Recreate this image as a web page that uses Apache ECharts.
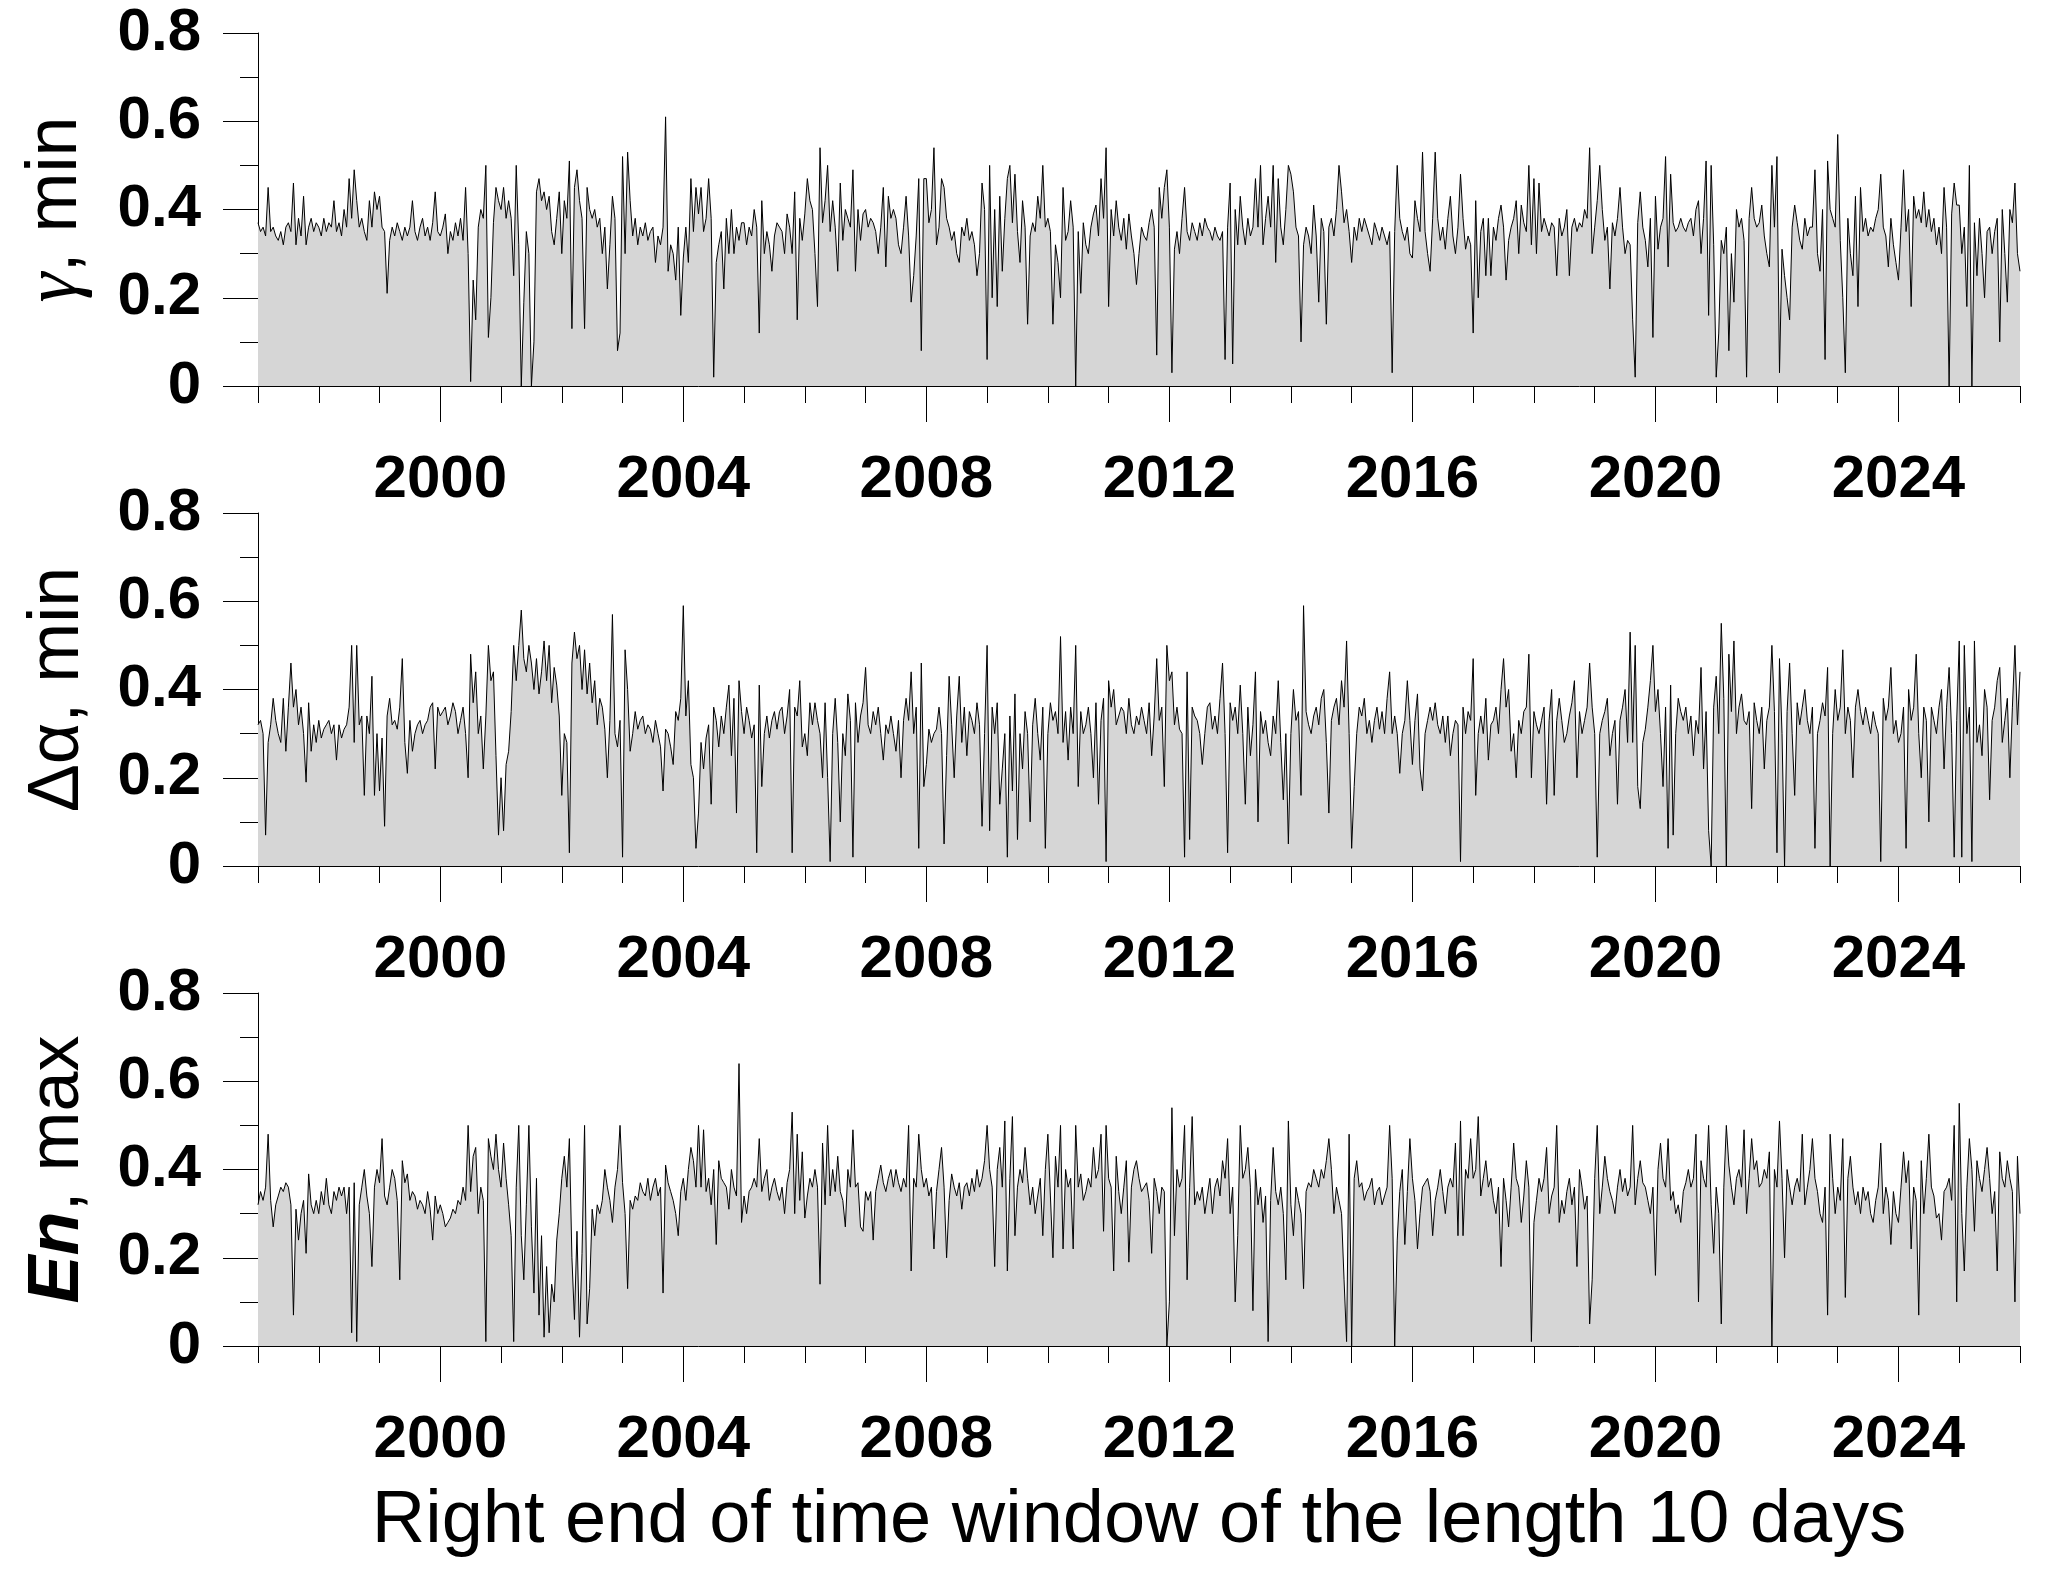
<!DOCTYPE html>
<html>
<head>
<meta charset="utf-8">
<script src="https://cdn.jsdelivr.net/npm/echarts@6/dist/echarts.min.js"></script>
<style>
html,body{margin:0;padding:0;background:#fff;}
#chart{width:2051px;height:1581px;}
</style>
</head>
<body>
<div id="chart"></div>
<script>
// ---- data: one row per calendar year (1997 ... 2025), values spread evenly inside the year ----
const FIRST_YEAR = 1997;
const LAST_YEAR = 2026;

const gammaMinRows = [
[0.37,0.35,0.36,0.34,0.45,0.35,0.36,0.34,0.33,0.35,0.32,0.36,0.37,0.35,0.46,0.32,0.38,0.34,0.43,0.32,0.36,0.38,0.35,0.37],
[0.36,0.34,0.38,0.35,0.37,0.36,0.42,0.35,0.37,0.34,0.40,0.36,0.47,0.38,0.49,0.42,0.36,0.38,0.35,0.33,0.42,0.36,0.44,0.40],
[0.43,0.36,0.35,0.21,0.33,0.36,0.34,0.37,0.35,0.33,0.36,0.34,0.36,0.42,0.35,0.33,0.36,0.38,0.34,0.36,0.33,0.37,0.44,0.35],
[0.34,0.36,0.39,0.30,0.35,0.33,0.37,0.34,0.38,0.33,0.45,0.30,0.01,0.24,0.15,0.36,0.40,0.38,0.50,0.11,0.20,0.37,0.45,0.42],
[0.40,0.45,0.38,0.42,0.38,0.25,0.50,0.32,0.00,0.19,0.35,0.30,0.00,0.10,0.44,0.47,0.42,0.44,0.40,0.43,0.35,0.32,0.38,0.44],
[0.30,0.42,0.38,0.51,0.13,0.45,0.49,0.42,0.38,0.13,0.45,0.40,0.38,0.40,0.36,0.38,0.30,0.36,0.22,0.32,0.43,0.38,0.08,0.12],
[0.52,0.30,0.53,0.42,0.34,0.38,0.32,0.36,0.34,0.37,0.33,0.35,0.36,0.28,0.34,0.32,0.36,0.61,0.26,0.32,0.30,0.24,0.36,0.16],
[0.29,0.36,0.28,0.47,0.35,0.45,0.39,0.45,0.35,0.38,0.47,0.38,0.02,0.28,0.32,0.35,0.22,0.38,0.30,0.40,0.30,0.36,0.33,0.37],
[0.37,0.32,0.36,0.34,0.40,0.36,0.12,0.42,0.30,0.35,0.32,0.26,0.34,0.37,0.36,0.35,0.30,0.39,0.36,0.30,0.44,0.15,0.38,0.33],
[0.39,0.47,0.42,0.40,0.30,0.18,0.54,0.37,0.42,0.50,0.35,0.42,0.36,0.26,0.46,0.33,0.40,0.38,0.36,0.49,0.26,0.40,0.33,0.39],
[0.40,0.36,0.38,0.37,0.35,0.30,0.36,0.45,0.27,0.43,0.38,0.40,0.38,0.32,0.30,0.36,0.43,0.34,0.19,0.25,0.34,0.47,0.08,0.47],
[0.47,0.37,0.40,0.54,0.32,0.36,0.47,0.45,0.38,0.36,0.33,0.35,0.30,0.28,0.36,0.34,0.38,0.33,0.35,0.32,0.25,0.30,0.46,0.40],
[0.06,0.50,0.20,0.40,0.18,0.43,0.26,0.38,0.47,0.50,0.37,0.48,0.35,0.28,0.42,0.36,0.14,0.34,0.37,0.35,0.43,0.38,0.50,0.36],
[0.38,0.35,0.14,0.32,0.28,0.20,0.45,0.33,0.35,0.42,0.36,0.00,0.35,0.21,0.37,0.32,0.30,0.36,0.39,0.41,0.34,0.47,0.38,0.54],
[0.18,0.40,0.34,0.42,0.36,0.33,0.38,0.31,0.39,0.34,0.30,0.23,0.30,0.36,0.34,0.33,0.37,0.40,0.36,0.07,0.45,0.38,0.45,0.49],
[0.36,0.03,0.31,0.35,0.30,0.38,0.45,0.35,0.33,0.37,0.35,0.33,0.37,0.34,0.38,0.36,0.35,0.33,0.36,0.34,0.33,0.35,0.06,0.36],
[0.46,0.05,0.40,0.32,0.43,0.36,0.32,0.38,0.34,0.36,0.47,0.36,0.50,0.32,0.38,0.43,0.36,0.50,0.28,0.47,0.36,0.32,0.40,0.50],
[0.48,0.44,0.36,0.34,0.10,0.32,0.36,0.34,0.30,0.41,0.34,0.19,0.38,0.35,0.14,0.36,0.38,0.34,0.40,0.50,0.44,0.37,0.40,0.35],
[0.28,0.36,0.33,0.38,0.35,0.38,0.36,0.34,0.32,0.37,0.35,0.33,0.36,0.34,0.32,0.35,0.03,0.35,0.50,0.38,0.35,0.33,0.36,0.30],
[0.29,0.42,0.38,0.35,0.53,0.35,0.30,0.26,0.38,0.53,0.38,0.33,0.36,0.31,0.38,0.43,0.34,0.30,0.36,0.48,0.38,0.31,0.34,0.32],
[0.12,0.42,0.20,0.35,0.38,0.25,0.38,0.25,0.36,0.33,0.38,0.41,0.36,0.24,0.33,0.36,0.38,0.42,0.30,0.41,0.37,0.35,0.50,0.32],
[0.47,0.30,0.46,0.35,0.38,0.36,0.34,0.37,0.36,0.25,0.38,0.34,0.36,0.40,0.25,0.36,0.38,0.35,0.37,0.36,0.40,0.38,0.54,0.30],
[0.36,0.42,0.50,0.40,0.33,0.36,0.22,0.37,0.34,0.38,0.45,0.36,0.30,0.33,0.32,0.15,0.02,0.37,0.44,0.36,0.33,0.27,0.38,0.11],
[0.43,0.31,0.36,0.38,0.52,0.27,0.48,0.37,0.35,0.36,0.38,0.36,0.35,0.37,0.38,0.34,0.40,0.42,0.30,0.38,0.51,0.16,0.50,0.32],
[0.02,0.12,0.33,0.30,0.36,0.08,0.30,0.19,0.40,0.36,0.38,0.33,0.02,0.38,0.45,0.38,0.36,0.37,0.41,0.34,0.30,0.27,0.50,0.36],
[0.52,0.03,0.31,0.25,0.20,0.15,0.36,0.41,0.37,0.33,0.31,0.38,0.34,0.36,0.36,0.49,0.30,0.26,0.40,0.06,0.51,0.40,0.38,0.36],
[0.57,0.33,0.20,0.03,0.38,0.30,0.25,0.43,0.18,0.45,0.35,0.38,0.34,0.36,0.35,0.38,0.40,0.48,0.36,0.34,0.27,0.38,0.32,0.28],
[0.24,0.36,0.49,0.35,0.40,0.18,0.43,0.38,0.40,0.37,0.44,0.36,0.40,0.35,0.38,0.32,0.36,0.30,0.45,0.36,0.00,0.39,0.46,0.41],
[0.41,0.30,0.36,0.18,0.50,0.00,0.37,0.25,0.38,0.30,0.20,0.35,0.36,0.30,0.35,0.38,0.10,0.40,0.30,0.19,0.40,0.37,0.46,0.30]
];
const gammaMinLast = 0.26;

const dAlphaMinRows = [
[0.32,0.33,0.30,0.07,0.28,0.32,0.38,0.33,0.30,0.28,0.38,0.26,0.36,0.46,0.36,0.40,0.32,0.36,0.30,0.19,0.37,0.26,0.32,0.28],
[0.33,0.29,0.31,0.32,0.33,0.30,0.32,0.24,0.32,0.29,0.31,0.32,0.36,0.50,0.28,0.50,0.32,0.34,0.16,0.34,0.30,0.43,0.16,0.30],
[0.17,0.29,0.09,0.34,0.38,0.32,0.33,0.31,0.36,0.47,0.28,0.21,0.33,0.26,0.30,0.32,0.33,0.30,0.32,0.33,0.36,0.37,0.22,0.36],
[0.34,0.35,0.36,0.32,0.34,0.37,0.35,0.30,0.33,0.36,0.30,0.20,0.48,0.37,0.44,0.30,0.34,0.22,0.34,0.50,0.42,0.44,0.25,0.07],
[0.20,0.08,0.23,0.26,0.35,0.50,0.42,0.50,0.58,0.47,0.44,0.50,0.46,0.40,0.47,0.39,0.44,0.51,0.42,0.50,0.37,0.45,0.41,0.34],
[0.16,0.30,0.28,0.03,0.46,0.53,0.47,0.50,0.40,0.49,0.39,0.46,0.37,0.42,0.32,0.38,0.36,0.31,0.20,0.33,0.57,0.30,0.27,0.33],
[0.02,0.49,0.40,0.26,0.30,0.35,0.31,0.33,0.34,0.30,0.32,0.31,0.28,0.33,0.30,0.27,0.17,0.31,0.30,0.27,0.23,0.35,0.33,0.38],
[0.59,0.34,0.42,0.23,0.20,0.04,0.12,0.28,0.22,0.29,0.32,0.14,0.36,0.33,0.27,0.34,0.30,0.36,0.41,0.25,0.38,0.12,0.42,0.35],
[0.30,0.36,0.33,0.29,0.32,0.03,0.41,0.18,0.30,0.34,0.29,0.33,0.35,0.31,0.35,0.36,0.30,0.34,0.40,0.03,0.36,0.34,0.42,0.27],
[0.30,0.25,0.37,0.32,0.37,0.33,0.30,0.20,0.37,0.20,0.01,0.30,0.38,0.28,0.10,0.30,0.25,0.39,0.33,0.02,0.37,0.28,0.34,0.37],
[0.45,0.32,0.30,0.35,0.32,0.36,0.30,0.24,0.32,0.30,0.34,0.30,0.26,0.33,0.20,0.33,0.38,0.33,0.44,0.30,0.36,0.04,0.46,0.18],
[0.23,0.31,0.28,0.30,0.31,0.36,0.30,0.05,0.25,0.43,0.32,0.20,0.34,0.43,0.28,0.36,0.25,0.35,0.33,0.30,0.37,0.32,0.09,0.30],
[0.50,0.08,0.36,0.30,0.37,0.14,0.22,0.30,0.02,0.34,0.17,0.39,0.06,0.30,0.22,0.35,0.30,0.10,0.32,0.38,0.30,0.24,0.36,0.04],
[0.30,0.37,0.33,0.35,0.30,0.52,0.28,0.35,0.24,0.36,0.30,0.50,0.18,0.35,0.30,0.32,0.36,0.30,0.20,0.37,0.14,0.33,0.38,0.01],
[0.42,0.36,0.40,0.32,0.34,0.36,0.35,0.30,0.38,0.32,0.30,0.34,0.32,0.36,0.33,0.30,0.37,0.25,0.34,0.47,0.33,0.36,0.18,0.50],
[0.42,0.44,0.32,0.36,0.31,0.30,0.02,0.44,0.06,0.36,0.34,0.33,0.30,0.23,0.30,0.36,0.37,0.31,0.34,0.30,0.38,0.46,0.30,0.03],
[0.37,0.33,0.36,0.30,0.41,0.30,0.14,0.36,0.25,0.32,0.44,0.10,0.35,0.30,0.33,0.28,0.25,0.34,0.30,0.42,0.28,0.15,0.30,0.05],
[0.30,0.40,0.33,0.35,0.16,0.59,0.35,0.32,0.30,0.34,0.36,0.32,0.38,0.40,0.28,0.12,0.33,0.36,0.38,0.32,0.42,0.36,0.51,0.30],
[0.04,0.18,0.30,0.36,0.34,0.38,0.30,0.33,0.28,0.33,0.36,0.31,0.35,0.30,0.38,0.44,0.30,0.34,0.30,0.21,0.30,0.33,0.42,0.33],
[0.23,0.33,0.39,0.22,0.17,0.30,0.33,0.36,0.33,0.37,0.32,0.30,0.34,0.28,0.34,0.25,0.30,0.33,0.32,0.01,0.36,0.30,0.35,0.33],
[0.47,0.16,0.30,0.34,0.30,0.38,0.24,0.32,0.33,0.36,0.30,0.40,0.47,0.36,0.40,0.26,0.30,0.20,0.33,0.30,0.35,0.36,0.48,0.20],
[0.35,0.32,0.30,0.33,0.36,0.14,0.33,0.40,0.16,0.33,0.38,0.33,0.28,0.30,0.34,0.37,0.42,0.20,0.35,0.30,0.33,0.36,0.46,0.36],
[0.30,0.02,0.30,0.33,0.35,0.38,0.25,0.30,0.33,0.14,0.33,0.36,0.40,0.28,0.53,0.28,0.50,0.18,0.13,0.28,0.31,0.36,0.42,0.50],
[0.35,0.40,0.30,0.18,0.36,0.04,0.41,0.07,0.30,0.38,0.35,0.33,0.36,0.30,0.34,0.25,0.33,0.30,0.45,0.22,0.35,0.08,0.00,0.36],
[0.43,0.30,0.55,0.38,0.00,0.48,0.35,0.51,0.30,0.36,0.39,0.33,0.32,0.35,0.13,0.37,0.33,0.30,0.36,0.22,0.33,0.36,0.50,0.35],
[0.03,0.47,0.30,0.00,0.35,0.46,0.30,0.16,0.37,0.32,0.36,0.40,0.33,0.30,0.36,0.04,0.30,0.33,0.37,0.34,0.45,0.00,0.30,0.40],
[0.33,0.36,0.49,0.30,0.36,0.33,0.20,0.36,0.40,0.35,0.32,0.36,0.33,0.30,0.35,0.32,0.30,0.01,0.38,0.33,0.36,0.45,0.30,0.33],
[0.28,0.30,0.36,0.04,0.40,0.33,0.36,0.48,0.30,0.20,0.36,0.33,0.10,0.36,0.33,0.30,0.36,0.40,0.22,0.36,0.45,0.30,0.02,0.33],
[0.51,0.02,0.50,0.30,0.36,0.01,0.51,0.28,0.32,0.25,0.40,0.36,0.15,0.33,0.36,0.42,0.45,0.28,0.33,0.38,0.20,0.36,0.50,0.32]
];
const dAlphaMinLast = 0.44;

const enMaxRows = [
[0.32,0.35,0.33,0.36,0.48,0.33,0.27,0.32,0.34,0.36,0.35,0.37,0.36,0.32,0.07,0.31,0.24,0.30,0.33,0.21,0.39,0.32,0.30,0.33],
[0.30,0.35,0.32,0.38,0.32,0.30,0.35,0.33,0.36,0.34,0.36,0.30,0.36,0.03,0.37,0.01,0.32,0.36,0.40,0.34,0.30,0.18,0.36,0.40],
[0.37,0.47,0.34,0.32,0.36,0.40,0.38,0.33,0.15,0.42,0.37,0.39,0.33,0.35,0.34,0.31,0.33,0.32,0.30,0.35,0.31,0.24,0.34,0.30],
[0.32,0.30,0.27,0.28,0.29,0.31,0.30,0.33,0.32,0.36,0.33,0.50,0.35,0.43,0.45,0.30,0.36,0.33,0.01,0.47,0.43,0.40,0.48,0.40],
[0.36,0.46,0.38,0.32,0.25,0.01,0.36,0.50,0.25,0.15,0.32,0.50,0.27,0.12,0.38,0.07,0.25,0.02,0.18,0.03,0.14,0.10,0.24,0.30],
[0.38,0.43,0.36,0.47,0.20,0.06,0.26,0.02,0.21,0.50,0.05,0.13,0.31,0.25,0.32,0.30,0.33,0.40,0.36,0.33,0.28,0.36,0.40,0.50],
[0.37,0.30,0.13,0.33,0.31,0.34,0.33,0.37,0.35,0.34,0.38,0.33,0.36,0.38,0.34,0.36,0.12,0.41,0.37,0.35,0.33,0.30,0.25,0.35],
[0.38,0.33,0.40,0.45,0.42,0.36,0.50,0.36,0.49,0.35,0.38,0.32,0.40,0.23,0.42,0.38,0.37,0.36,0.31,0.40,0.36,0.34,0.64,0.28],
[0.34,0.30,0.35,0.36,0.38,0.36,0.47,0.35,0.38,0.40,0.33,0.36,0.38,0.35,0.33,0.36,0.30,0.37,0.40,0.53,0.30,0.48,0.33,0.44],
[0.29,0.34,0.38,0.36,0.40,0.36,0.14,0.46,0.32,0.50,0.34,0.40,0.35,0.43,0.35,0.33,0.27,0.40,0.36,0.49,0.36,0.37,0.27,0.26],
[0.35,0.33,0.35,0.24,0.35,0.38,0.41,0.37,0.35,0.38,0.40,0.36,0.40,0.37,0.35,0.38,0.36,0.50,0.17,0.38,0.36,0.48,0.40,0.36],
[0.38,0.34,0.36,0.22,0.35,0.40,0.45,0.36,0.20,0.33,0.39,0.36,0.34,0.37,0.31,0.36,0.37,0.34,0.38,0.35,0.40,0.36,0.38,0.42],
[0.50,0.40,0.36,0.18,0.40,0.45,0.36,0.51,0.17,0.38,0.52,0.25,0.36,0.40,0.37,0.45,0.38,0.32,0.36,0.30,0.34,0.38,0.25,0.40],
[0.48,0.34,0.20,0.43,0.36,0.50,0.22,0.40,0.36,0.38,0.22,0.50,0.36,0.39,0.33,0.35,0.38,0.36,0.45,0.38,0.40,0.48,0.26,0.50],
[0.38,0.36,0.17,0.43,0.35,0.30,0.36,0.42,0.19,0.36,0.40,0.42,0.38,0.35,0.36,0.37,0.33,0.21,0.38,0.35,0.30,0.36,0.35,0.00],
[0.10,0.54,0.25,0.40,0.36,0.38,0.50,0.15,0.36,0.52,0.32,0.35,0.33,0.36,0.30,0.34,0.38,0.30,0.36,0.38,0.34,0.42,0.38,0.47],
[0.30,0.36,0.10,0.25,0.50,0.38,0.40,0.45,0.36,0.08,0.40,0.32,0.36,0.28,0.34,0.01,0.33,0.45,0.35,0.32,0.36,0.30,0.15,0.51],
[0.32,0.25,0.36,0.33,0.30,0.13,0.35,0.37,0.36,0.40,0.38,0.36,0.40,0.38,0.42,0.47,0.40,0.30,0.36,0.33,0.30,0.15,0.01,0.48],
[0.00,0.38,0.42,0.36,0.37,0.33,0.35,0.36,0.38,0.32,0.35,0.36,0.32,0.34,0.36,0.50,0.38,0.00,0.24,0.35,0.40,0.23,0.35,0.47],
[0.38,0.33,0.22,0.30,0.36,0.37,0.38,0.35,0.25,0.33,0.36,0.40,0.35,0.30,0.36,0.38,0.36,0.46,0.25,0.51,0.25,0.40,0.38,0.47],
[0.38,0.40,0.52,0.34,0.38,0.42,0.36,0.38,0.33,0.30,0.36,0.18,0.38,0.33,0.27,0.36,0.46,0.38,0.36,0.28,0.34,0.42,0.36,0.01],
[0.28,0.33,0.38,0.35,0.38,0.45,0.30,0.34,0.36,0.50,0.28,0.33,0.30,0.35,0.38,0.32,0.36,0.18,0.40,0.36,0.31,0.34,0.05,0.15],
[0.38,0.50,0.30,0.36,0.43,0.38,0.35,0.33,0.30,0.36,0.40,0.35,0.38,0.34,0.36,0.50,0.32,0.38,0.42,0.37,0.36,0.33,0.30,0.36],
[0.16,0.40,0.46,0.38,0.36,0.47,0.33,0.35,0.30,0.32,0.28,0.35,0.37,0.40,0.36,0.38,0.48,0.10,0.42,0.38,0.36,0.50,0.32,0.21],
[0.36,0.30,0.05,0.36,0.50,0.41,0.36,0.32,0.38,0.40,0.36,0.49,0.30,0.38,0.47,0.40,0.42,0.36,0.37,0.40,0.38,0.44,0.00,0.40],
[0.36,0.51,0.38,0.20,0.40,0.36,0.32,0.36,0.38,0.35,0.48,0.32,0.36,0.40,0.47,0.38,0.35,0.30,0.28,0.36,0.07,0.48,0.38,0.30],
[0.36,0.33,0.47,0.11,0.38,0.43,0.36,0.32,0.35,0.30,0.36,0.33,0.35,0.30,0.28,0.33,0.36,0.46,0.30,0.36,0.33,0.23,0.35,0.30],
[0.28,0.36,0.44,0.37,0.42,0.22,0.36,0.33,0.07,0.42,0.30,0.38,0.48,0.36,0.34,0.29,0.30,0.24,0.35,0.36,0.38,0.33,0.50,0.10],
[0.55,0.30,0.17,0.36,0.47,0.40,0.26,0.42,0.38,0.35,0.40,0.45,0.38,0.30,0.35,0.17,0.44,0.38,0.36,0.42,0.38,0.35,0.10,0.43]
];
const enMaxLast = 0.30;

const yearTicks = [];
for (let y = FIRST_YEAR; y <= LAST_YEAR; y++) yearTicks.push(y);
const yearLabels = [2000, 2004, 2008, 2012, 2016, 2020, 2024];

const yNames = ['{g|γ}, min', 'Δα, min', '{b|En}, max'];
const xTitle = 'Right end of time window of the length 10 days';

function toSeriesData(rows, last) {
  const out = [];
  rows.forEach((row, r) => {
    const year = FIRST_YEAR + r;
    row.forEach((v, k) => out.push([year + k / row.length, v]));
  });
  out.push([LAST_YEAR, last]);
  return out;
}

const seriesData = [
  toSeriesData(gammaMinRows, gammaMinLast),
  toSeriesData(dAlphaMinRows, dAlphaMinLast),
  toSeriesData(enMaxRows, enMaxLast)
];

// ---- chart ----
const FONT = 'Liberation Sans, Arial, sans-serif';
const gridTops = [33, 513, 993];
const gridH = 353;

const grids = gridTops.map(t => ({ left: 258, right: 31, top: t, height: gridH, containLabel: false }));

const xAxes = [];
const yAxes = [];
const series = [];
for (let i = 0; i < 3; i++) {
  xAxes.push({
    gridIndex: i, type: 'value', min: FIRST_YEAR, max: LAST_YEAR, position: 'bottom',
    axisLine: { show: true, onZero: false, lineStyle: { color: '#000', width: 1 } },
    axisTick: { show: true, length: 17, customValues: yearTicks, lineStyle: { color: '#000', width: 1 } },
    axisLabel: { show: false },
    splitLine: { show: false },
    name: i === 2 ? xTitle : '',
    nameLocation: 'middle', nameGap: 139,
    nameTextStyle: { fontSize: 74, fontFamily: FONT, color: '#000' }
  });
  xAxes.push({
    gridIndex: i, type: 'value', min: FIRST_YEAR, max: LAST_YEAR, position: 'bottom',
    axisLine: { show: false, onZero: false },
    axisTick: { show: true, length: 36, customValues: yearLabels, lineStyle: { color: '#000', width: 1 } },
    axisLabel: {
      show: true, customValues: yearLabels, formatter: v => String(Math.round(v)),
      fontSize: 60, fontWeight: 'bold', fontFamily: FONT, color: '#000', margin: 64
    },
    splitLine: { show: false }
  });
  yAxes.push({
    gridIndex: i, type: 'value', min: 0, max: 0.8, interval: 0.2,
    axisLine: { show: true, lineStyle: { color: '#000', width: 1 } },
    axisTick: { show: true, length: 35, lineStyle: { color: '#000', width: 1 } },
    minorTick: { show: true, splitNumber: 2, length: 18, lineStyle: { color: '#000', width: 1 } },
    splitLine: { show: false }, minorSplitLine: { show: false },
    axisLabel: { fontSize: 60, fontWeight: 'bold', fontFamily: FONT, color: '#000', margin: 57 },
    name: yNames[i], nameLocation: 'middle', nameRotate: 90, nameGap: 164,
    nameTextStyle: {
      fontSize: 72, fontFamily: FONT, color: '#000',
      rich: {
        b: { fontSize: 72, fontFamily: FONT, fontWeight: 'bold', fontStyle: 'italic', color: '#000' },
        g: { fontSize: 76, fontFamily: 'Liberation Serif, DejaVu Serif, serif', fontStyle: 'italic', color: '#000' }
      }
    }
  });
  series.push({
    type: 'line', xAxisIndex: 2 * i, yAxisIndex: i,
    data: seriesData[i],
    symbol: 'none', showSymbol: false, smooth: false,
    lineStyle: { color: '#000', width: 1 },
    areaStyle: { color: '#d6d6d6', opacity: 1 },
    silent: true, z: 2
  });
}

const chart = echarts.init(document.getElementById('chart'), null, { renderer: 'canvas' });
chart.setOption({
  backgroundColor: '#fff',
  animation: false,
  textStyle: { fontFamily: FONT },
  grid: grids,
  xAxis: xAxes,
  yAxis: yAxes,
  series: series
});
</script>
</body>
</html>
